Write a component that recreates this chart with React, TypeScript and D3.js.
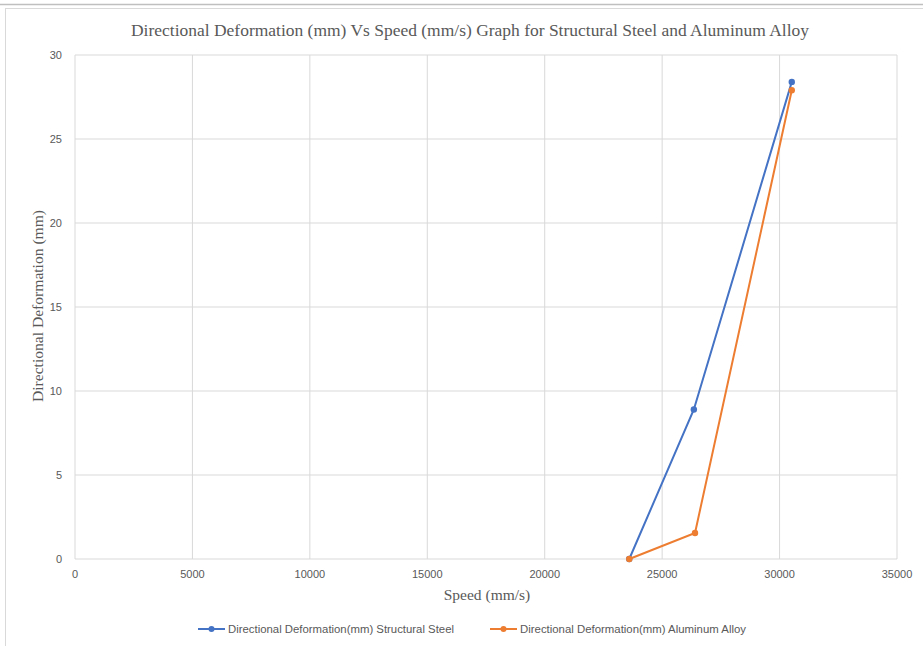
import React from "react";
import * as d3 from "d3";

const speedsSteel = [23600, 26350, 30520];
const defSteel = [0, 8.9, 28.4];
const speedsAlu = [23600, 26400, 30520];
const defAlu = [0, 1.55, 27.9];
const xTicks = [0, 5000, 10000, 15000, 20000, 25000, 30000, 35000];
const yTicks = [0, 5, 10, 15, 20, 25, 30];
const seriesNames = [
  "Directional Deformation(mm) Structural Steel",
  "Directional Deformation(mm) Aluminum Alloy",
];
const seriesColors = ["#4472C4", "#ED7D31"];

export default function App() {
  const W = 923, H = 646;
  const x = d3.scaleLinear().domain([0, 35000]).range([75, 897]);
  const y = d3.scaleLinear().domain([0, 30]).range([559, 55]);
  const line = d3
    .line<[number, number]>()
    .x((d) => x(d[0]))
    .y((d) => y(d[1]));
  const series = [
    speedsSteel.map((s, i) => [s, defSteel[i]] as [number, number]),
    speedsAlu.map((s, i) => [s, defAlu[i]] as [number, number]),
  ];
  const legendX = [198, 490];
  const legendLen = [226, 226];
  return (
    <svg
      width={W}
      height={H}
      style={{ position: "absolute", left: 0, top: 0, background: "#fff" }}
    >
      <line x1={0} x2={W} y1={4.5} y2={4.5} stroke="#bfbfbf" strokeWidth={1.5} />
      <rect x={5.5} y={8.5} width={W} height={H} fill="none" stroke="#d9d9d9" />
      {xTicks.map((t) => (
        <line key={"gx" + t} x1={x(t)} x2={x(t)} y1={y(30)} y2={y(0)} stroke="#d9d9d9" />
      ))}
      {yTicks.map((t) => (
        <line key={"gy" + t} x1={x(0)} x2={x(35000)} y1={y(t)} y2={y(t)} stroke="#d9d9d9" />
      ))}
      {xTicks.map((t) => (
        <text
          key={"tx" + t}
          x={x(t)}
          y={578}
          textAnchor="middle"
          fontFamily="Liberation Sans Narrow, Liberation Sans, sans-serif"
          fontSize={11}
          fill="#595959"
        >
          {t}
        </text>
      ))}
      {yTicks.map((t) => (
        <text
          key={"ty" + t}
          x={62}
          y={y(t) + 4}
          textAnchor="end"
          fontFamily="Liberation Sans Narrow, Liberation Sans, sans-serif"
          fontSize={11}
          fill="#595959"
        >
          {t}
        </text>
      ))}
      <text
        x={470}
        y={36}
        textAnchor="middle"
        fontFamily="Liberation Serif, serif"
        fontSize={16}
        fill="#595959"
        textLength={678}
        lengthAdjust="spacingAndGlyphs"
      >
        Directional Deformation (mm) Vs Speed (mm/s) Graph for Structural Steel and Aluminum Alloy
      </text>
      <text
        x={487}
        y={600}
        textAnchor="middle"
        fontFamily="Liberation Serif, serif"
        fontSize={15.5}
        fill="#595959"
      >
        Speed (mm/s)
      </text>
      <text
        transform="translate(43,306) rotate(-90)"
        textAnchor="middle"
        fontFamily="Liberation Serif, serif"
        fontSize={15.5}
        fill="#595959"
        textLength={192}
        lengthAdjust="spacingAndGlyphs"
      >
        Directional Deformation (mm)
      </text>
      {series.map((s, i) => (
        <g key={"s" + i}>
          <path d={line(s) || ""} fill="none" stroke={seriesColors[i]} strokeWidth={2} />
          {s.map((d, j) => (
            <circle key={j} cx={x(d[0])} cy={y(d[1])} r={3.2} fill={seriesColors[i]} />
          ))}
        </g>
      ))}
      {seriesNames.map((n, i) => (
        <g key={"l" + i}>
          <line
            x1={legendX[i]}
            x2={legendX[i] + 27}
            y1={629}
            y2={629}
            stroke={seriesColors[i]}
            strokeWidth={2}
          />
          <circle cx={legendX[i] + 13.5} cy={629} r={3} fill={seriesColors[i]} />
          <text
            x={legendX[i] + 30}
            y={632.5}
            fontFamily="Liberation Sans Narrow, Liberation Sans, sans-serif"
            fontSize={10}
            fill="#595959"
            textLength={legendLen[i]}
            lengthAdjust="spacingAndGlyphs"
          >
            {n}
          </text>
        </g>
      ))}
    </svg>
  );
}
